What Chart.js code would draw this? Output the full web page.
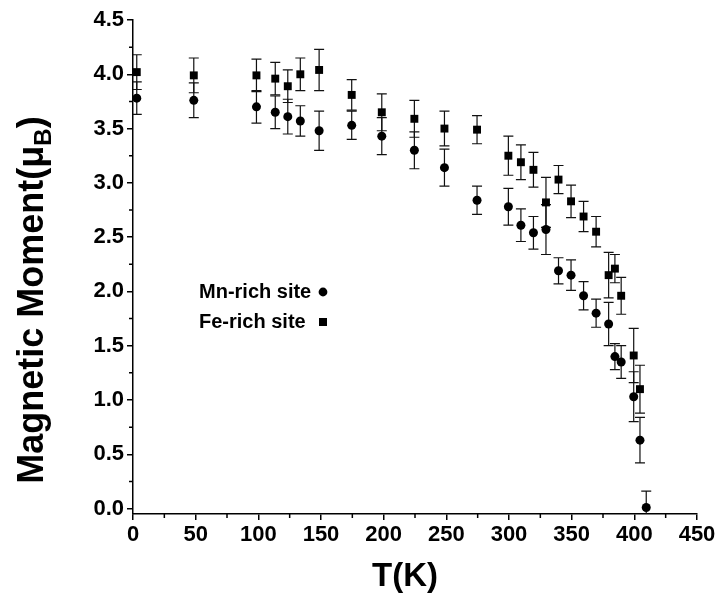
<!DOCTYPE html>
<html>
<head>
<meta charset="utf-8">
<script src="https://cdn.jsdelivr.net/npm/chart.js@4.4.1/dist/chart.umd.min.js"></script>
<style>
  html, body { margin: 0; padding: 0; background: #fff; }
  #wrap { width: 725px; height: 597px; }
</style>
</head>
<body>
<div id="wrap"><canvas id="chart" width="725" height="597"></canvas></div>
<script>
// temperatures (K)
const temps = [3, 48.5, 98.5, 113.5, 123.5, 133.5, 148.5, 174.5, 198.5, 224.5, 248.5, 274.5,
  299.5, 309.5, 319.5, 329.5, 339.5, 349.5, 359.5, 369.5, 379.5, 384.5, 389.5, 399.5, 404.5, 409.5];

// Mn-rich site (circles)
const mnMoment = [3.78, 3.76, 3.70, 3.65, 3.61, 3.57, 3.48, 3.53, 3.43, 3.30, 3.14, 2.84,
  2.78, 2.61, 2.54, 2.57, 2.19, 2.15, 1.96, 1.80, 1.70, 1.40, 1.35, 1.03, 0.63, 0.01];
const mnErr = [0.15, 0.16, 0.15, 0.15, 0.16, 0.14, 0.18, 0.13, 0.17, 0.17, 0.17, 0.13,
  0.17, 0.15, 0.15, 0.23, 0.12, 0.14, 0.13, 0.13, 0.20, 0.12, 0.15, 0.23, 0.21, 0.15];

// Fe-rich site (squares), no point at the last temperature
const feMoment = [4.02, 3.99, 3.99, 3.96, 3.89, 4.00, 4.04, 3.81, 3.65, 3.59, 3.50, 3.49,
  3.25, 3.19, 3.12, 2.82, 3.03, 2.83, 2.69, 2.55, 2.15, 2.21, 1.96, 1.41, 1.10, null];
const feErr = [0.16, 0.16, 0.15, 0.15, 0.15, 0.15, 0.19, 0.14, 0.17, 0.17, 0.16, 0.13,
  0.18, 0.16, 0.16, 0.23, 0.13, 0.15, 0.14, 0.14, 0.21, 0.13, 0.17, 0.25, 0.22, null];

const xTicks = [0, 50, 100, 150, 200, 250, 300, 350, 400, 450];
const xMinor = [25, 75, 125, 175, 225, 275, 325, 375, 425];
const yTicks = [0, 0.5, 1.0, 1.5, 2.0, 2.5, 3.0, 3.5, 4.0, 4.5];
const yMinor = [0.25, 0.75, 1.25, 1.75, 2.25, 2.75, 3.25, 3.75, 4.25];
const seriesNames = ['Mn-rich site', 'Fe-rich site'];

const FONT = "'Liberation Sans', Arial, sans-serif";

function toPoints(vals, errs) {
  const pts = [];
  temps.forEach((t, i) => {
    if (vals[i] !== null) pts.push({x: t, y: vals[i], err: errs[i]});
  });
  return pts;
}

// vertical error bars with caps, drawn under the markers
const errorBars = {
  id: 'errorBars',
  beforeDatasetsDraw(chart) {
    const {ctx, chartArea, scales: {x, y}} = chart;
    ctx.save();
    ctx.beginPath();
    ctx.rect(chartArea.left, chartArea.top - 10, chartArea.width + 10, chartArea.height + 10);
    ctx.clip();
    ctx.strokeStyle = '#111';
    ctx.lineWidth = 1.2;
    chart.data.datasets.forEach(ds => {
      ds.data.forEach(p => {
        const px = x.getPixelForValue(p.x);
        const top = y.getPixelForValue(p.y + p.err);
        const bot = y.getPixelForValue(p.y - p.err);
        ctx.beginPath();
        ctx.moveTo(px, top); ctx.lineTo(px, bot);
        ctx.moveTo(px - 5, top); ctx.lineTo(px + 5, top);
        ctx.moveTo(px - 5, bot); ctx.lineTo(px + 5, bot);
        ctx.stroke();
      });
    });
    ctx.restore();
  }
};

// minor ticks, axis titles (with subscript), in-plot legend
const decorations = {
  id: 'decorations',
  afterDraw(chart) {
    const {ctx, chartArea, scales: {x, y}} = chart;
    ctx.save();
    ctx.strokeStyle = '#000';
    ctx.lineWidth = 1.5;
    ctx.beginPath();
    xMinor.forEach(v => {
      const px = x.getPixelForValue(v);
      ctx.moveTo(px, chartArea.bottom); ctx.lineTo(px, chartArea.bottom + 4);
    });
    yMinor.forEach(v => {
      const py = y.getPixelForValue(v);
      ctx.moveTo(chartArea.left - 4, py); ctx.lineTo(chartArea.left, py);
    });
    ctx.stroke();

    // y axis title: Magnetic Moment(μB)
    const big = 'bold 36px ' + FONT;
    const small = 'bold 24px ' + FONT;
    const part1 = 'Magnetic Moment(\u03bc', sub = 'B', part2 = ')';
    ctx.font = big;
    const w1 = ctx.measureText(part1).width, w3 = ctx.measureText(part2).width;
    ctx.font = small;
    const w2 = ctx.measureText(sub).width;
    const total = w1 + w2 + w3;
    ctx.translate(43, 300);
    ctx.rotate(-Math.PI / 2);
    ctx.fillStyle = '#000';
    ctx.textBaseline = 'alphabetic';
    ctx.textAlign = 'left';
    let cx = -total / 2;
    ctx.font = big; ctx.fillText(part1, cx, 0); cx += w1;
    ctx.font = small; ctx.fillText(sub, cx, 8); cx += w2;
    ctx.font = big; ctx.fillText(part2, cx, 0);
    ctx.setTransform(1, 0, 0, 1, 0, 0);

    // x axis title
    ctx.font = 'bold 33px ' + FONT;
    ctx.textAlign = 'center';
    ctx.textBaseline = 'middle';
    ctx.fillText('T(K)', 405, 577);

    // legend inside the plot
    ctx.font = 'bold 20px ' + FONT;
    ctx.textBaseline = 'middle';
    ctx.textAlign = 'left';
    const lx = 199, ly = 292, gap = 30, mx = 323;
    ctx.fillText(seriesNames[0], lx, ly);
    ctx.fillText(seriesNames[1], lx, ly + gap);
    ctx.beginPath();
    ctx.arc(mx, ly, 4.4, 0, Math.PI * 2);
    ctx.fill();
    ctx.fillRect(mx - 4, ly + gap - 4, 8, 8);
    ctx.restore();
  }
};

const tickFont = {family: FONT, size: 22, weight: 'bold'};

new Chart(document.getElementById('chart'), {
  type: 'scatter',
  data: {
    datasets: [
      {
        label: seriesNames[0],
        data: toPoints(mnMoment, mnErr),
        pointStyle: 'circle',
        pointRadius: 4.5,
        pointHoverRadius: 4.5,
        backgroundColor: '#000',
        borderColor: '#000',
        borderWidth: 0,
        clip: false
      },
      {
        label: seriesNames[1],
        data: toPoints(feMoment, feErr),
        pointStyle: 'rect',
        pointRadius: 5.6,
        pointHoverRadius: 5.6,
        backgroundColor: '#000',
        borderColor: '#000',
        borderWidth: 0,
        clip: false
      }
    ]
  },
  options: {
    responsive: false,
    animation: false,
    events: [],
    layout: {padding: {top: 20, right: 28, left: 0, bottom: 0}},
    plugins: {
      legend: {display: false},
      tooltip: {enabled: false}
    },
    scales: {
      x: {
        type: 'linear',
        min: 0,
        max: 450,
        afterBuildTicks: s => { s.ticks = xTicks.map(v => ({value: v})); },
        afterFit: s => { s.height = 83; },
        ticks: {font: tickFont, color: '#000', padding: 2, maxRotation: 0, autoSkip: false},
        grid: {display: true, drawOnChartArea: false, drawTicks: true, tickLength: 6, color: '#000', lineWidth: 1.5},
        border: {display: true, color: '#000', width: 1.5},
        title: {display: false}
      },
      y: {
        type: 'linear',
        min: -0.05,
        max: 4.5,
        afterBuildTicks: s => { s.ticks = yTicks.map(v => ({value: v})); },
        afterFit: s => { s.width = 133; },
        ticks: {font: tickFont, color: '#000', padding: 3, autoSkip: false,
          callback: v => Number(v).toFixed(1)},
        grid: {display: true, drawOnChartArea: false, drawTicks: true, tickLength: 6, color: '#000', lineWidth: 1.5},
        border: {display: true, color: '#000', width: 1.5},
        title: {display: false}
      }
    }
  },
  plugins: [errorBars, decorations]
});
</script>
</body>
</html>
